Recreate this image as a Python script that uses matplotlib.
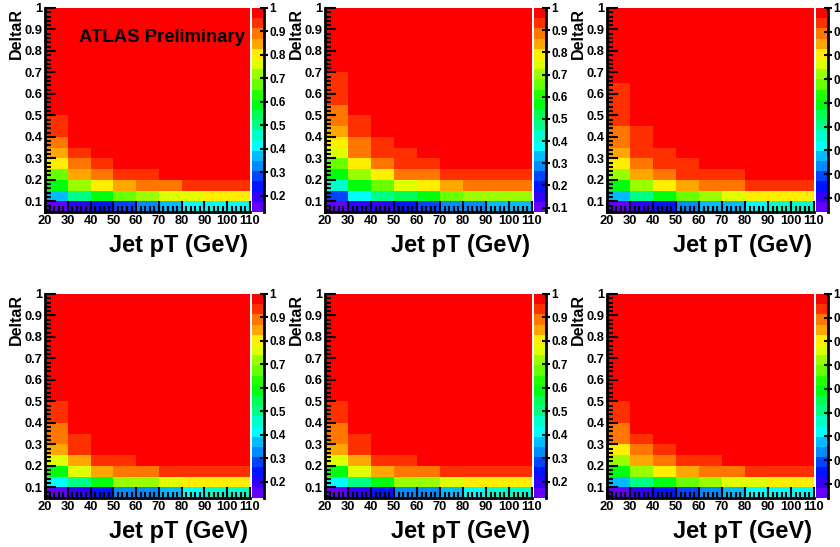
import colorsys
import numpy as np
import matplotlib
matplotlib.use("Agg")
from matplotlib import pyplot as plt
from matplotlib.colors import ListedColormap
from matplotlib.ticker import MultipleLocator, AutoMinorLocator, FuncFormatter

# bin edges of the efficiency maps
pt_edges = [20, 30, 40, 50, 60, 70, 80, 90, 100, 110]
dr_edges = np.round(np.arange(0.05, 1.0001, 0.05), 2)

# cells above the listed ones sit on the plateau
plateau = 0.99

# per panel: one list per pT column, DeltaR bins from the bottom up
cols_a = [[.13, .37, .59, .67, .80, .85, .89, .93, .93],
          [.20, .50, .72, .85, .89, .93],
          [.24, .59, .80, .89, .93],
          [.28, .67, .85, .93],
          [.33, .72, .89, .93],
          [.37, .76, .89],
          [.41, .76, .93],
          [.41, .80, .93],
          [.41, .80, .93]]
cols_b = [[.08, .24, .43, .56, .66, .75, .79, .84, .89, .89, .93, .93, .93],
          [.15, .38, .56, .70, .79, .89, .89, .93, .93],
          [.15, .47, .66, .79, .89, .93, .93],
          [.20, .52, .75, .89, .93, .93],
          [.24, .56, .79, .89, .93],
          [.29, .66, .84, .93],
          [.29, .70, .89, .93],
          [.33, .70, .89, .93],
          [.33, .70, .89, .93]]
cols_c = [[.14, .38, .59, .72, .81, .85, .89, .89, .94, .94, .94, .94],
          [.20, .51, .72, .85, .89, .94, .94, .94],
          [.25, .59, .81, .89, .94, .94],
          [.33, .68, .85, .94, .94],
          [.38, .72, .89, .94],
          [.38, .76, .89, .94],
          [.42, .81, .94],
          [.46, .81, .94],
          [.46, .81, .94]]
cols_d = [[.13, .41, .59, .76, .85, .89, .89, .93, .93],
          [.20, .50, .76, .85, .93, .93],
          [.24, .59, .85, .93],
          [.33, .72, .89, .93],
          [.33, .72, .89],
          [.37, .76, .93],
          [.41, .80, .93],
          [.46, .80, .93],
          [.46, .80, .93]]
cols_e = [[.13, .41, .59, .76, .85, .89, .89, .93, .93],
          [.20, .50, .76, .85, .93, .93],
          [.24, .59, .85, .93],
          [.33, .72, .89, .93],
          [.33, .72, .89],
          [.37, .76, .93],
          [.41, .80, .93],
          [.46, .80, .93],
          [.46, .80, .93]]
cols_f = [[.14, .38, .59, .72, .81, .89, .89, .94, .94],
          [.20, .51, .72, .85, .89, .94],
          [.25, .59, .81, .89, .94],
          [.29, .68, .85, .94],
          [.33, .72, .89, .94],
          [.38, .76, .89],
          [.42, .76, .94],
          [.42, .81, .94],
          [.42, .81, .94]]
panel_cols = [cols_a, cols_b, cols_c, cols_d, cols_e, cols_f]
panel_zmin = [0.13, 0.08, 0.14, 0.13, 0.13, 0.14]

# ROOT "pretty" palette, 20 contour levels
n_levels = 20
level_colors = []
for k in range(n_levels):
    idx = int((k + 0.99) * 50 / n_levels)
    hue = max(280 - (idx + 1) * 5.6, 0)
    level_colors.append(colorsys.hsv_to_rgb(hue / 360, 1, 1))
cmap = ListedColormap(level_colors)

W, H = 840, 547
fig = plt.figure(figsize=(W / 100, H / 100), dpi=100)

font = dict(family=['Liberation Sans', 'DejaVu Sans'], weight='bold')


def rect(l, r, t, b):
    return [l / W, 1 - b / H, (r - l) / W, (b - t) / H]


fmt = FuncFormatter(lambda v, p: f'{v:g}')

col_x = [(45, 250), (325, 532), (607, 814)]
row_y = [(8, 212), (294, 498)]

for i, cols in enumerate(panel_cols):
    l, r = col_x[i % 3]
    t, b = row_y[i // 3]
    ax = fig.add_axes(rect(l, r, t, b))
    cax = fig.add_axes(rect(r + 2, r + 14, t, b))

    z = np.full((len(dr_edges) - 1, len(pt_edges) - 1), plateau)
    for j, col in enumerate(cols):
        z[:len(col), j] = col
    mesh = ax.pcolormesh(pt_edges, dr_edges, z, cmap=cmap,
                         vmin=panel_zmin[i], vmax=1.0)

    ax.set_xlim(20, 110)
    ax.set_ylim(0.05, 1.0)
    ax.xaxis.set_major_locator(MultipleLocator(10))
    ax.xaxis.set_minor_locator(AutoMinorLocator(5))
    ax.yaxis.set_major_locator(MultipleLocator(0.1))
    ax.yaxis.set_minor_locator(AutoMinorLocator(5))
    ax.yaxis.set_major_formatter(fmt)
    ax.tick_params(which='both', direction='in', color='k', width=1.5)
    ax.tick_params(which='major', length=8)
    ax.tick_params(which='minor', length=4)
    ax.tick_params(axis='x', pad=2)
    ax.tick_params(axis='y', pad=2)
    for lab in ax.get_xticklabels() + ax.get_yticklabels():
        lab.set_fontsize(9.3)
        lab.set(**font)
    for s in ['top', 'right']:
        ax.spines[s].set_visible(False)
    for s in ['left', 'bottom']:
        ax.spines[s].set_linewidth(2)

    cb = fig.colorbar(mesh, cax=cax)
    cb.outline.set_visible(False)
    cb.set_ticks(np.round(np.arange(0.1, 1.001, 0.1), 1))
    cb.ax.yaxis.set_major_formatter(fmt)
    cb.ax.set_ylim(panel_zmin[i], 1.0)
    cb.ax.tick_params(direction='inout', length=6, width=1.5, pad=1)
    for lab in cb.ax.get_yticklabels():
        lab.set_fontsize(8.5)
        lab.set(**font)
    cax.plot([1, 1], [0, 1], transform=cax.transAxes, color='k', lw=2,
             clip_on=False)

    fig.text((r - 2) / W, 1 - (b + 40) / H, 'Jet pT (GeV)', ha='right',
             va='baseline', fontsize=17, **font)
    fig.text((l - 29) / W, 1 - t / H, 'DeltaR', ha='center', va='top',
             rotation=90, fontsize=11.5, **font)

    if i == 0:
        ax.text(0.975, 0.855, 'ATLAS Preliminary', transform=ax.transAxes,
                ha='right', va='center', fontsize=13.3, **font)

fig.savefig('out.png', dpi=100)
